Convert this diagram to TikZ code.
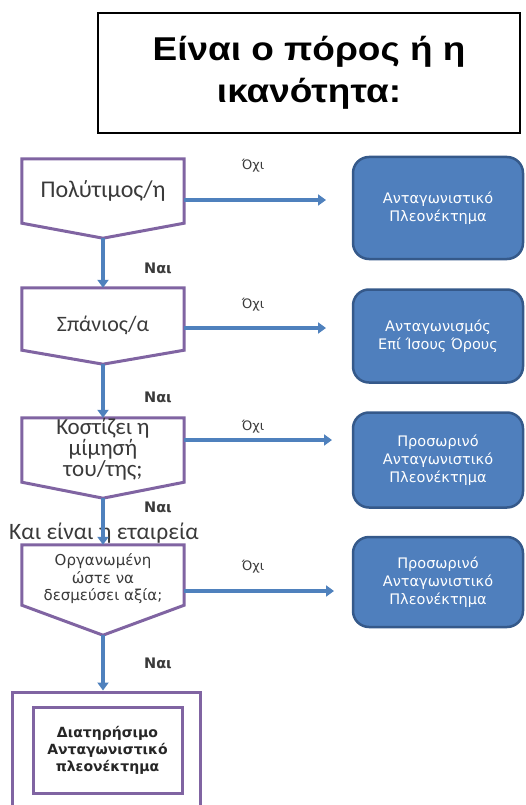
\documentclass[tikz,border=0pt]{standalone}
\usepackage{fontspec}
\setmainfont{Carlito}
\newfontfamily\headfont[FakeStretch=1.12]{Liberation Sans}
\newfontfamily\resfont{DejaVu Sans}
\usetikzlibrary{calc,arrows.meta}

\definecolor{purp}{HTML}{8064A2}
\definecolor{flowblue}{HTML}{4F81BD}
\definecolor{boxblue}{HTML}{4F7FBD}
\definecolor{boxedge}{HTML}{35598A}
\definecolor{txtgray}{HTML}{3A3A3A}

\tikzset{
  decbox/.style={minimum width=162pt, inner sep=0pt, align=center,
    text=txtgray},
  decedge/.style={draw=purp, line width=3pt, line join=miter, fill=white},
  flow/.style={draw=flowblue, line width=4pt,
    -{Triangle[length=8pt,width=11pt]}},
  nolbl/.style={font=\resfont\fontsize{13}{15}\selectfont, text=txtgray},
  yeslbl/.style={font=\resfont\bfseries\fontsize{14.5}{16}\selectfont, text=txtgray},
  resbox/.style={rounded corners=16pt, fill=boxblue, draw=boxedge,
    line width=2.5pt, minimum width=170pt, text=white, align=center,
    font=\resfont\fontsize{14.5}{18}\selectfont},
  finbox/.style={draw=purp, line width=3pt, inner sep=0pt}
}

\begin{document}
\begin{tikzpicture}[x=1pt,y=-1pt]
\useasboundingbox (0,0) rectangle (526,805);

% heading
\node[draw=black, line width=2pt, minimum width=422pt, minimum height=120pt,
      align=center, font=\headfont\bfseries\fontsize{33}{42}\selectfont]
  (title) at (309,73) {Είναι ο πόρος ή η\\ικανότητα:};

% decision shapes (pentagons pointing down)
\node[decbox, minimum height=64pt] (d1) at (103,191) {};
\draw[decedge] (d1.north west) -- (d1.north east) -- (d1.south east)
  -- ($(d1.south)+(0,15)$) coordinate (d1tip) -- (d1.south west) -- cycle;
\node[decbox, font=\fontsize{24}{26}\selectfont] at (d1) {Πολύτιμος/η};

\node[decbox, minimum height=62pt] (d2) at (103,319) {};
\draw[decedge] (d2.north west) -- (d2.north east) -- (d2.south east)
  -- ($(d2.south)+(0,14)$) coordinate (d2tip) -- (d2.south west) -- cycle;
\node[decbox, font=\fontsize{22}{24}\selectfont] at ($(d2)+(0,6)$) {Σπάνιος/α};

\node[decbox, minimum height=64pt] (d3) at (103,450) {};
\draw[decedge] (d3.north west) -- (d3.north east) -- (d3.south east)
  -- ($(d3.south)+(0,16)$) coordinate (d3tip) -- (d3.south west) -- cycle;
\node[decbox, font=\fontsize{23}{19.5}\selectfont] at ($(d3)+(0,-1)$)
  {Κοστίζει η\\μίμησή\\του/της;};

\node[decbox, minimum height=60pt] (d4) at (103,575) {};
\draw[decedge] (d4.north west) -- (d4.north east) -- (d4.south east)
  -- ($(d4.south)+(0,30)$) coordinate (d4tip) -- (d4.south west) -- cycle;
\node[decbox, font=\resfont\fontsize{15}{17.5}\selectfont] at ($(d4)+(0,4)$)
  {Οργανωμένη\\ώστε να\\δεσμεύσει αξία;};

\node[text=txtgray, font=\fontsize{23.5}{25}\selectfont]
  (cond) at (104,533) {Και είναι η εταιρεία};

% final outcome
\node[finbox, minimum width=188pt, minimum height=126pt] (fout) at (106,755) {};
\node[finbox, minimum width=149pt, minimum height=86pt, align=center,
      text=black!85, font=\resfont\bfseries\fontsize{14}{17}\selectfont]
  (fin) at (107.5,750) {Διατηρήσιμο\\Ανταγωνιστικό\\πλεονέκτημα};

% outcome boxes
\node[resbox, minimum height=102pt] (r1) at (438,208) {Ανταγωνιστικό\\Πλεονέκτημα};
\node[resbox, minimum height=93pt] (r2) at (438,336) {Ανταγωνισμός\\Επί Ίσους Όρους};
\node[resbox, minimum height=95pt] (r3) at (438,460) {Προσωρινό\\Ανταγωνιστικό\\Πλεονέκτημα};
\node[resbox, minimum height=90pt] (r4) at (438,582) {Προσωρινό\\Ανταγωνιστικό\\Πλεονέκτημα};

% "no" branches
\coordinate (e1) at (326,200);
\coordinate (e2) at (326,328);
\coordinate (e3) at (332,440);
\coordinate (e4) at (334,591);
\draw[flow] (d1.east |- e1) -- (e1);
\draw[flow] (d2.east |- e2) -- (e2);
\draw[flow] (d3.east |- e3) -- (e3);
\draw[flow] (d4.east |- e4) -- (e4);

\node[nolbl] (o1) at (253,166) {Όχι};
\node[nolbl] (o2) at (253,305) {Όχι};
\node[nolbl] (o3) at (253,427) {Όχι};
\node[nolbl] (o4) at (253,567) {Όχι};

% "yes" branches
\draw[flow] (d1tip) -- (d2.north);
\draw[flow] (d2tip) -- (d3.north);
\draw[flow] (d3tip) -- (d4.north);
\draw[flow] (d4tip) -- (d4tip |- fout.north);

\node[yeslbl] (y1) at (158,268) {Ναι};
\node[yeslbl] (y2) at (158,397) {Ναι};
\node[yeslbl] (y3) at (158,507) {Ναι};
\node[yeslbl] (y4) at (158,663) {Ναι};

\end{tikzpicture}
\end{document}
